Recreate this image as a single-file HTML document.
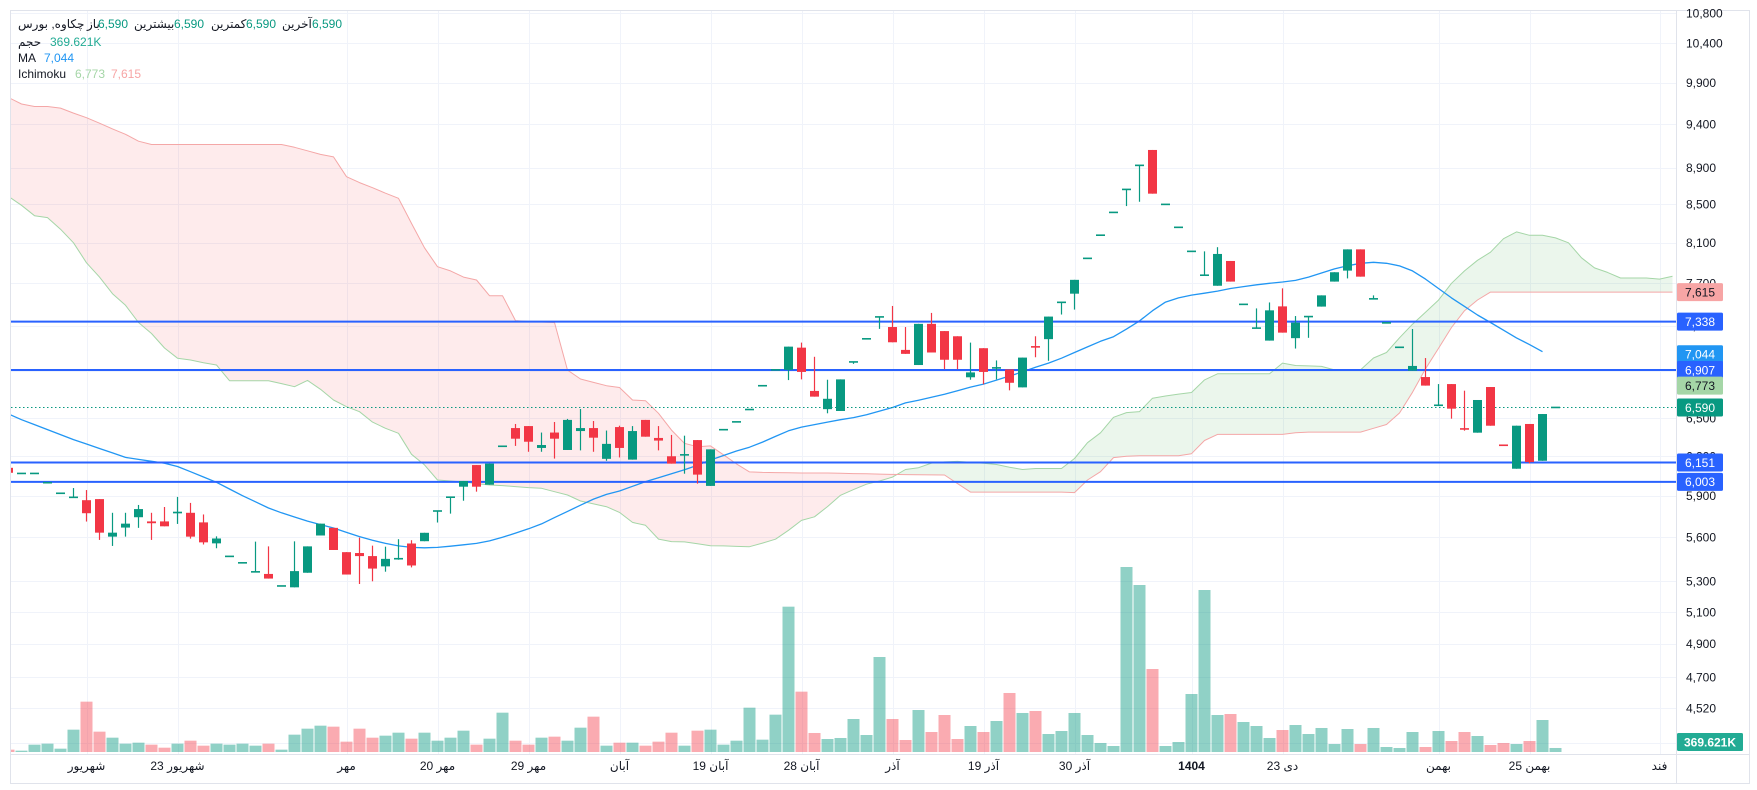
<!DOCTYPE html>
<html lang="fa">
<head>
<meta charset="utf-8">
<title>چکاوه - نمودار</title>
<style>
  html,body{margin:0;padding:0;background:#fff;}
  body{width:1757px;height:790px;overflow:hidden;font-family:"Liberation Sans","DejaVu Sans",sans-serif;}
  svg{display:block;}
  text{font-family:"Liberation Sans","DejaVu Sans",sans-serif;}
</style>
</head>
<body>
<svg id="chart" width="1757" height="790" viewBox="0 0 1757 790" xmlns="http://www.w3.org/2000/svg">
  <rect x="10.5" y="10.5" width="1739" height="773" fill="#fff" stroke="#e0e3eb" stroke-width="1"/>
  <g id="grid"></g>
  <g id="cloud"></g>
  <g id="volume"></g>
  <g id="lines"></g>
  <g id="levels"></g>
  <g id="candles"></g>
  <line x1="1676.5" y1="11" x2="1676.5" y2="783" stroke="#e0e3eb"/>
  <line x1="11" y1="754.5" x2="1749" y2="754.5" stroke="#e0e3eb"/>
  <g id="yaxis"></g>
  <g id="xaxis"></g>
  <g id="badges"></g>
  <g id="legend" font-size="12">
    <text x="18" y="28" fill="#131722">چکاوه, بورس</text>
    <text x="87" y="28" fill="#131722">باز</text>
    <text x="98" y="28" fill="#089981">6,590</text>
    <text x="134" y="28" fill="#131722">بیشترین</text>
    <text x="174" y="28" fill="#089981">6,590</text>
    <text x="211" y="28" fill="#131722">کمترین</text>
    <text x="246" y="28" fill="#089981">6,590</text>
    <text x="282" y="28" fill="#131722">آخرین</text>
    <text x="312" y="28" fill="#089981">6,590</text>
    <text x="18" y="46" fill="#131722">حجم</text>
    <text x="50" y="46" fill="#22ab94">369.621K</text>
    <text x="18" y="62" fill="#131722">MA</text>
    <text x="44" y="62" fill="#2196f3">7,044</text>
    <text x="18" y="78" fill="#131722">Ichimoku</text>
    <text x="75" y="78" fill="#a5d6a7">6,773</text>
    <text x="111" y="78" fill="#f7a5a5">7,615</text>
  </g>
</svg>
<script>
const openP = [6110,6067,6067,5997,5918,5887,5867,5875,5605,5669,5743,5713,5713,5771,5775,5706,5558,5468,5424,5362,5349,5269,5260,5357,5613,5667,5497,5491,5470,5400,5445,5557,5573,5787,5888,5967,6131,5982,6277,6422,6438,6264,6386,6248,6398,6422,6179,6430,6173,6488,6343,6199,6209,6326,5973,6409,6472,6573,6772,6908,6908,7103,6728,6576,6561,6977,7182,7381,7289,7083,6950,7318,7252,7205,6844,7098,6924,6912,6758,7110,7179,7517,7600,7944,8178,8415,8661,8926,9100,8500,8259,8014,7777,7676,7918,7499,7278,7166,7480,7188,7384,7478,7716,7823,8034,7550,7327,7106,6901,6846,6607,6786,6415,6385,6761,6285,6103,6455,6164,6590];
const highP = [6110,6067,6067,5997,5918,5957,5942,5875,5775,5775,5832,5775,5817,5891,5847,5763,5607,5468,5424,5570,5537,5269,5572,5537,5697,5667,5497,5598,5542,5535,5587,5580,5632,5788,5889,6010,6131,6142,6277,6455,6438,6386,6471,6496,6577,6479,6402,6441,6438,6488,6438,6367,6361,6326,6253,6409,6472,6573,6772,6908,7112,7148,7022,6823,6826,6977,7182,7382,7484,7289,7318,7419,7252,7205,7148,7098,6990,6912,7015,7205,7385,7518,7733,7944,8178,8415,8661,8926,9100,8500,8259,8014,8014,8056,7918,7499,7461,7517,7651,7390,7385,7584,7807,8034,8034,7584,7327,7106,7271,7011,6786,6786,6730,6652,6761,6285,6441,6455,6536,6590];
const lowP = [6072,6067,6067,5997,5918,5887,5712,5582,5540,5605,5667,5582,5678,5695,5591,5550,5524,5468,5424,5362,5318,5269,5260,5357,5613,5512,5345,5282,5300,5364,5445,5393,5573,5705,5769,5863,5930,5982,6277,6280,6234,6234,6181,6248,6245,6234,6164,6190,6173,6353,6245,6142,6065,5990,5973,6409,6472,6573,6772,6908,6820,6826,6680,6542,6561,6960,7182,7272,7151,7048,6950,7060,6914,6914,6823,6784,6826,6733,6758,7018,6987,7404,7450,7944,8178,8415,8482,8528,8615,8500,8259,8014,7777,7676,7716,7499,7278,7166,7238,7095,7191,7478,7716,7747,7764,7550,7327,7106,6901,6773,6607,6498,6401,6385,6441,6282,6103,6143,6164,6590];
const closeP = [6072,6067,6067,5997,5918,5888,5772,5633,5633,5697,5802,5700,5678,5783,5605,5565,5592,5468,5424,5363,5318,5269,5368,5537,5697,5512,5345,5470,5385,5451,5452,5406,5632,5788,5889,6010,5967,6142,6277,6337,6313,6287,6337,6488,6422,6345,6296,6264,6398,6353,6322,6142,6210,6058,6253,6409,6472,6573,6772,6908,7112,6890,6680,6662,6826,6977,7182,7382,7151,7048,7318,7060,6996,6996,6886,6890,6925,6797,7015,7106,7385,7518,7733,7944,8178,8415,8661,8926,8615,8500,8259,8014,7778,7988,7716,7499,7279,7443,7238,7329,7385,7584,7807,8034,7764,7551,7327,7106,6942,6773,6608,6580,6412,6652,6441,6282,6441,6154,6536,6590];
const volumeK = [216,123,678,770,308,2064,4651,1879,1324,770,862,678,400,770,1047,585,770,678,770,585,770,216,1602,2156,2433,2341,955,2156,1324,1509,1786,1232,1786,1047,1324,1971,678,1232,3634,1047,678,1324,1417,1047,2248,3265,585,862,862,585,955,1786,585,1971,2064,678,1047,4096,1140,3450,13429,5575,1756,1201,1294,3049,1571,8778,3049,1109,3881,1848,3419,1201,2402,1848,2864,5452,3604,3788,1663,1940,3604,1571,832,554,17094,15431,7669,554,924,5359,14969,3419,3511,2772,2402,1294,2033,2495,1663,2218,739,2125,739,2218,462,370,1848,462,1940,1016,1848,1478,647,832,739,1016,2957,370];
const maValues = [6536,6490,6450,6410,6370,6330,6295,6260,6225,6190,6175,6160,6145,6120,6080,6040,6000,5950,5900,5855,5810,5775,5745,5715,5690,5666,5635,5605,5580,5558,5540,5530,5527,5530,5538,5548,5558,5575,5600,5630,5660,5695,5740,5785,5830,5875,5910,5935,5970,6005,6035,6065,6095,6130,6170,6205,6240,6270,6310,6355,6400,6430,6450,6470,6490,6507,6530,6560,6590,6628,6650,6675,6700,6730,6760,6786,6820,6855,6890,6930,6967,7010,7060,7110,7160,7201,7270,7345,7440,7520,7560,7587,7605,7625,7650,7668,7685,7700,7712,7728,7760,7800,7840,7870,7895,7905,7895,7869,7820,7740,7650,7560,7480,7400,7330,7260,7190,7130,7067];
const spanA = [8586,8490,8380,8360,8240,8100,7900,7760,7600,7490,7330,7230,7100,7010,6994,6970,6950,6815,6815,6815,6815,6790,6764,6817,6742,6652,6596,6555,6470,6420,6380,6214,6132,6017,6010,6002,5990,5980,5975,5968,5960,5955,5930,5905,5861,5840,5819,5778,5706,5685,5588,5570,5568,5555,5542,5540,5537,5535,5560,5587,5650,5720,5746,5820,5903,5945,5986,6010,6039,6097,6111,6146,6155,6159,6152,6145,6135,6115,6097,6105,6105,6105,6182,6305,6384,6509,6548,6556,6667,6685,6701,6715,6822,6874,6874,6874,6874,6874,6967,6946,6942,6938,6908,6908,6908,7011,7060,7191,7315,7425,7539,7700,7820,7925,8006,8142,8212,8177,8177,8150,8100,7950,7850,7805,7751,7751,7751,7740,7767];
const spanB = [9718,9640,9609,9609,9590,9530,9476,9410,9343,9280,9200,9162,9162,9162,9162,9162,9162,9162,9162,9162,9162,9162,9130,9090,9050,9021,8800,8735,8680,8620,8565,8300,8050,7861,7820,7760,7731,7581,7581,7348,7340,7335,7330,6906,6829,6800,6772,6757,6652,6646,6542,6406,6300,6274,6280,6210,6140,6079,6075,6073,6072,6070,6070,6070,6068,6066,6064,6062,6060,6058,6057,6056,6055,5990,5927,5927,5927,5927,5927,5927,5927,5927,5923,6017,6080,6189,6199,6203,6203,6203,6203,6219,6323,6371,6371,6371,6371,6371,6371,6384,6390,6390,6390,6390,6390,6420,6451,6544,6716,6917,7096,7285,7440,7540,7615,7615,7615,7615,7615,7615,7615,7615,7615,7615,7615,7615,7615,7615,7615];
const priceTicks = [10800,10400,9900,9400,8900,8500,8100,7700,7300,6900,6500,6200,5900,5600,5300,5100,4900,4700,4520,4330];
const timeLabels = ["شهریور","23 شهریور","مهر","20 مهر","29 مهر","آبان","19 آبان","28 آبان","آذر","19 آذر","30 آذر","1404","23 دی","بهمن","25 بهمن","فند"];
const timeLabelIndex = [6,13,26,33,40,47,54,61,68,75,82,91,98,110,117,127];
const levelPrices = [7338,6907,6151,6003];
const lastPrice = 6590;
const lastVolumeLabel = "369.621K";
const maLast = 7044;
const spanALast = 6773;
const spanBLast = 7615;

const NS = "http://www.w3.org/2000/svg";
const PL = 11, PR = 1676, PT = 11, PB = 754;
const X = i => 8.5 + 13 * i;
const Y = p => 481.9 - 797.9 * Math.log(p / 6003);
const VBASE = 752, VPX = 92.4;
const YV = v => VBASE - v / VPX;
const fmt = p => p.toLocaleString("en-US");

function mk(tag, attrs, parent) {
  const el = document.createElementNS(NS, tag);
  for (const k in attrs) el.setAttribute(k, attrs[k]);
  parent.appendChild(el);
  return el;
}

const svg = document.getElementById("chart");
const defs = mk("defs", {}, svg);
const cp = mk("clipPath", {id: "plotclip"}, defs);
mk("rect", {x: PL, y: PT, width: PR - PL, height: PB - PT}, cp);
["grid","cloud","volume","lines","levels","candles"].forEach(id => document.getElementById(id).setAttribute("clip-path", "url(#plotclip)"));

const grid = document.getElementById("grid");
priceTicks.forEach(p => {
  const y = Math.round(Y(p)) + 0.5;
  const l = mk("line", {x1: PL, x2: PR, y1: y, y2: y, stroke: "#f0f3fa", "stroke-width": 1}, grid);
  
  
});
timeLabelIndex.forEach(i => {
  const x = Math.round(X(i)) + 0.5;
  const l = mk("line", {x1: x, x2: x, y1: PT, y2: PB, stroke: "#f0f3fa", "stroke-width": 1}, grid);
  
  
});

const cloud = document.getElementById("cloud");
function quad(x0, a0, b0, x1, a1, b1) {
  // pixel y: smaller = higher price; green when span A above span B
  const green = (a0 + a1) <= (b0 + b1);
  const pts = `${x0},${a0} ${x1},${a1} ${x1},${b1} ${x0},${b0}`;
  const pg = mk("polygon", {points: pts, fill: green ? "rgba(76,175,80,0.11)" : "rgba(242,54,69,0.1)"}, cloud);
  
  
}
for (let i = 0; i < spanA.length - 1; i++) {
  const x0 = X(i), x1 = X(i + 1);
  const a0 = Y(spanA[i]), a1 = Y(spanA[i + 1]), b0 = Y(spanB[i]), b1 = Y(spanB[i + 1]);
  const d0 = a0 - b0, d1 = a1 - b1;
  if (d0 * d1 < 0) {
    const t = d0 / (d0 - d1);
    const xm = x0 + t * (x1 - x0), ym = a0 + t * (a1 - a0);
    quad(x0, a0, b0, xm, ym, ym);
    quad(xm, ym, ym, x1, a1, b1);
  } else quad(x0, a0, b0, x1, a1, b1);
}
function polyline(vals, color, width, name, parent) {
  const pts = vals.map((v, i) => `${X(i).toFixed(1)},${Y(v).toFixed(1)}`).join(" ");
  const pl = mk("polyline", {points: pts, fill: "none", stroke: color, "stroke-width": width, "stroke-linejoin": "round"}, parent);
  
  
}
polyline(spanA, "#a5d6a7", 1, "ichimoku-span-a", cloud);
polyline(spanB, "#f4a7a7", 1, "ichimoku-span-b", cloud);

const vol = document.getElementById("volume");
volumeK.forEach((v, i) => {
  const up = closeP[i] >= openP[i];
  const y = YV(v);
  const r = mk("rect", {x: X(i) - 6, y: y, width: 12, height: VBASE - y, fill: up ? "rgba(8,153,129,0.45)" : "rgba(242,54,69,0.42)"}, vol);
  
  
});

polyline(maValues, "#2196f3", 1.3, "moving-average-line", document.getElementById("lines"));

const lev = document.getElementById("levels");
levelPrices.forEach(p => {
  const y = Y(p);
  const l = mk("line", {x1: PL, x2: PR, y1: y, y2: y, stroke: "#2962ff", "stroke-width": 2}, lev);
  
  
});
const dl = mk("line", {x1: PL, x2: PR, y1: Y(lastPrice), y2: Y(lastPrice), stroke: "#089981", "stroke-width": 1, "stroke-dasharray": "1.5 2.5"}, lev);



const cg = document.getElementById("candles");
openP.forEach((o, i) => {
  const c = closeP[i], h = highP[i], l = lowP[i];
  const col = c >= o ? "#089981" : "#f23645";
  const x = X(i);
  if (h !== l) {
    const w = mk("line", {x1: x, x2: x, y1: Y(h), y2: Y(l), stroke: col, "stroke-width": 1.2}, cg);
    
    
  }
  const yt = Y(Math.max(o, c)), yb = Y(Math.min(o, c));
  const bh = Math.max(1.6, yb - yt);
  const b = mk("rect", {x: x - 4.5, y: yt - (yb - yt < 1.6 ? 0.8 : 0), width: 9, height: bh, fill: col}, cg);
  
  
});

const ya = document.getElementById("yaxis");
priceTicks.forEach(p => {
  const t = mk("text", {x: 1686, y: Y(p) + 4.3, "font-size": 12, fill: "#131722"}, ya);
  t.textContent = fmt(p);
  
  
});

const xa = document.getElementById("xaxis");
timeLabels.forEach((s, k) => {
  const t = mk("text", {x: X(timeLabelIndex[k]), y: 770, "font-size": 12, fill: "#131722", "text-anchor": "middle"}, xa);
  if (s === "1404") t.setAttribute("font-weight", "bold");
  t.textContent = s;
  
  
});

const bg = document.getElementById("badges");
const badgeVals = [spanBLast, levelPrices[0], maLast, levelPrices[1], spanALast, lastPrice, levelPrices[2], levelPrices[3]];
const badgeBg = ["#f7a5a5", "#2962ff", "#2196f3", "#2962ff", "#a5d6a7", "#089981", "#2962ff", "#2962ff"];
const badgeFg = ["#131722", "#fff", "#fff", "#fff", "#131722", "#fff", "#fff", "#fff"];
const badgeNames = ["ichimoku-span-b-badge", "level-badge-7338", "ma-badge", "level-badge-6907", "ichimoku-span-a-badge", "last-price-badge", "level-badge-6151", "level-badge-6003"];
badgeVals.forEach((p, k) => {
  const y = Y(p);
  const r = mk("rect", {x: 1677, y: y - 9, width: 46, height: 18, rx: 1.5, fill: badgeBg[k]}, bg);
  
  
  const t = mk("text", {x: 1700, y: y + 4.3, "font-size": 12, fill: badgeFg[k], "text-anchor": "middle"}, bg);
  t.textContent = fmt(p);
  
  
});
const vr = mk("rect", {x: 1677, y: 733, width: 66, height: 18, rx: 1.5, fill: "#22ab94"}, bg);


const vt = mk("text", {x: 1710, y: 746.3, "font-size": 12, fill: "#fff", "text-anchor": "middle", "font-weight": "bold"}, bg);
vt.textContent = lastVolumeLabel;


</script>
</body>
</html>
